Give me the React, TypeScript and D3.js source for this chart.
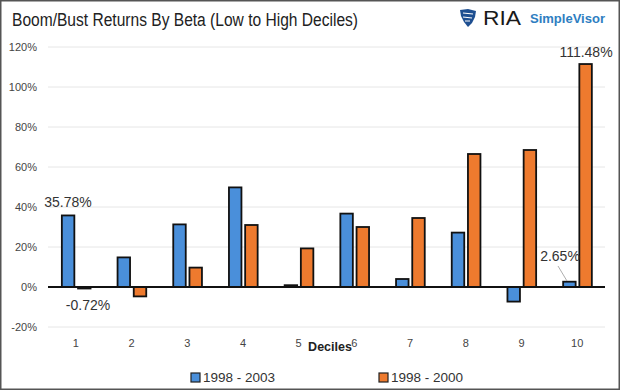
import React from "react";
import * as d3 from "d3";

const categories = ["1", "2", "3", "4", "5", "6", "7", "8", "9", "10"];
const series2003 = [35.78, 14.8, 31.3, 49.8, 0.9, 36.7, 4.0, 27.2, -7.3, 2.65];
const series2000 = [-0.72, -4.7, 9.7, 31.0, 19.3, 30.0, 34.5, 66.5, 68.5, 111.48];
const seriesNames = ["1998 - 2003", "1998 - 2000"];
const yTicks = [-20, 0, 20, 40, 60, 80, 100, 120];

const W = 620;
const H = 390;
const left = 48;
const right = 605;
const blue = "#4A8FDA";
const orange = "#EE7A2E";
const font = "Liberation Sans, Arial, sans-serif";

export default function App() {
  const x = d3.scaleBand<string>().domain(categories).range([left, right]);
  const y = d3.scaleLinear().domain([-20, 120]).range([327, 47]);
  const bw = 12.5;
  const cx = (c: string) => (x(c) as number) + x.bandwidth() / 2;
  const barY = (v: number) => Math.min(y(v), y(0));
  const barH = (v: number) => Math.max(1.5, Math.abs(y(v) - y(0)));

  return (
    <svg width={W} height={H} style={{ position: "absolute", left: 0, top: 0, background: "#fff" }} fontFamily={font}>
      <rect x={0.75} y={0.75} width={W - 1.5} height={H - 1.5} fill="#fff" stroke="#555" strokeWidth={1.5} />
      <text x={12} y={26} fontSize={18} fill="#222" textLength={346} lengthAdjust="spacingAndGlyphs">Boom/Bust Returns By Beta (Low to High Deciles)</text>
      {/* logo */}
      <g transform="translate(460,9)">
        <path d="M0,1 L8,0 L16,2 L15,8 L12,14 L8,18 L4,13 L1,7 Z" fill="#1E4F91" />
        <path d="M3,4 L13,5 M3,8 L12,9 M5,12 L10,12" stroke="#fff" strokeWidth={1.2} />
      </g>
      <text x={483} y={25} fontSize={21} fontWeight={500} fill="#1a1a1a" textLength={38} lengthAdjust="spacingAndGlyphs">RIA</text>
      <text x={530} y={23} fontSize={12.5} fontWeight="bold" fill="#2E7EC1" textLength={75} lengthAdjust="spacingAndGlyphs">SimpleVisor</text>

      {yTicks.map((t) => (
        <g key={t}>
          {t !== 0 && <line x1={left} x2={right} y1={y(t)} y2={y(t)} stroke="#e6e6e6" strokeWidth={1} />}
          <text x={37} y={y(t) + 4} fontSize={11} fill="#444" textAnchor="end">{t}%</text>
        </g>
      ))}

      {categories.map((c, i) => (
        <g key={c}>
          <rect x={cx(c) - 1.5 - bw} y={barY(series2003[i])} width={bw} height={barH(series2003[i])} fill={blue} stroke="#111" strokeWidth={1.8} />
          <rect x={cx(c) + 2.2} y={barY(series2000[i])} width={bw} height={barH(series2000[i])} fill={orange} stroke="#111" strokeWidth={1.8} />
          <text x={cx(c)} y={347} fontSize={11} fill="#444" textAnchor="middle">{c}</text>
        </g>
      ))}
      <line x1={left} x2={right} y1={y(0)} y2={y(0)} stroke="#111" strokeWidth={1.8} />

      <text x={68} y={207} fontSize={14} fill="#333" textAnchor="middle">{series2003[0].toFixed(2)}%</text>
      <text x={88} y={310} fontSize={14} fill="#333" textAnchor="middle">{series2000[0].toFixed(2)}%</text>
      <text x={560} y={261} fontSize={14} fill="#333" textAnchor="middle">{series2003[9].toFixed(2)}%</text>
      <line x1={558} y1={266} x2={567} y2={281} stroke="#999" strokeWidth={0.8} />
      <text x={586} y={57} fontSize={14} fill="#333" textAnchor="middle">{series2000[9].toFixed(2)}%</text>

      <text x={330} y={351} fontSize={12.5} fontWeight="bold" fill="#222" textAnchor="middle">Deciles</text>

      <rect x={191} y={373} width={9} height={9} fill={blue} stroke="#222" strokeWidth={1.2} />
      <text x={203} y={382} fontSize={13.5} fill="#333">{seriesNames[0]}</text>
      <rect x={379} y={373} width={9} height={9} fill={orange} stroke="#222" strokeWidth={1.2} />
      <text x={391} y={382} fontSize={13.5} fill="#333">{seriesNames[1]}</text>
    </svg>
  );
}
